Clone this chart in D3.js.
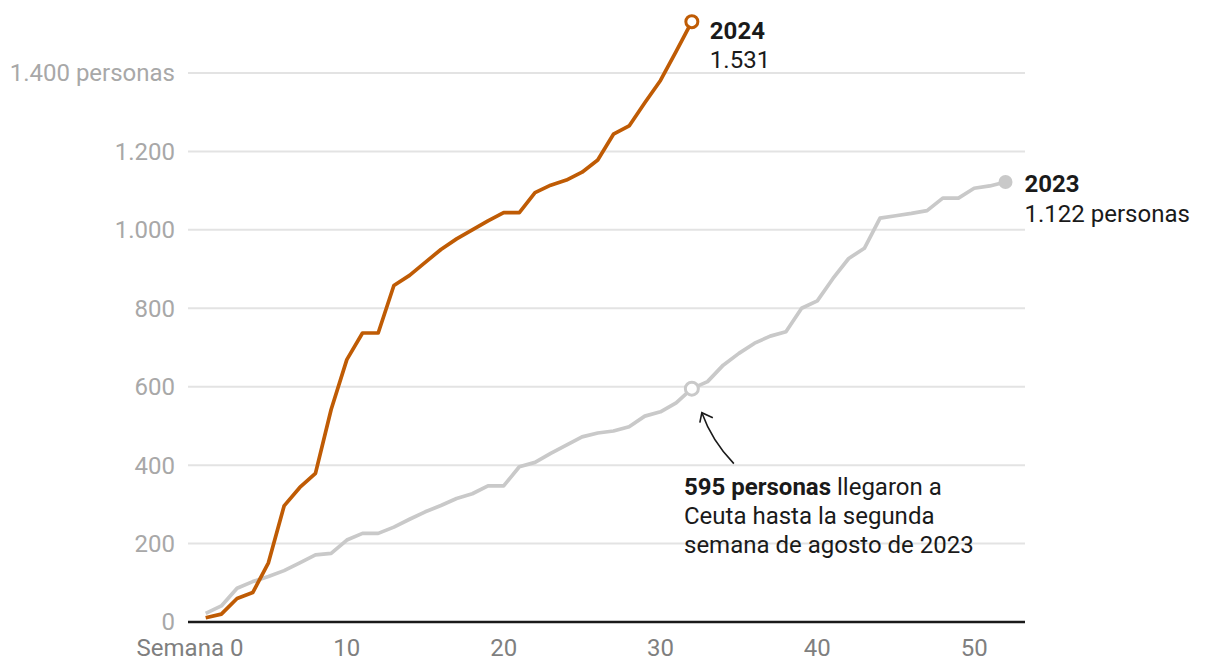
<!DOCTYPE html>
<html>
<head>
<meta charset="utf-8">
<script src="https://cdn.jsdelivr.net/npm/d3@7"></script>
<style>
  html, body { margin: 0; padding: 0; background: #fff; }
  svg { display: block; font-family: Roboto, "Noto Sans", sans-serif; }
</style>
</head>
<body>
<svg id="chart" width="1220" height="672"></svg>
<script>
// ---- Data ----
const weeks2024 = [1,2,3,4,5,6,7,8,9,10,11,12,13,14,15,16,17,18,19,20,21,22,23,24,25,26,27,28,29,30,31,32];
const values2024 = [11,20,60,75,151,296,343,379,542,669,737,737,858,884,917,950,977,1000,1023,1044,1044,1095,1114,1127,1147,1178,1244,1265,1324,1381,1455,1531];

const weeks2023 = [1,2,3,4,5,6,7,8,9,10,11,12,13,14,15,16,17,18,19,20,21,22,23,24,25,26,27,28,29,30,31,32,33,34,35,36,37,38,39,40,41,42,43,44,45,46,47,48,49,50,51,52];
const values2023 = [22,41,86,103,116,131,151,171,175,209,
                    226,226,242,262,281,297,315,327,347,347,
                    396,407,430,451,472,482,487,498,525,536,
                    559,595,613,655,685,711,729,740,800,819,
                    876,927,953,1030,1036,1042,1049,1081,1081,1106,
                    1112,1122];

const yTicks = [0,200,400,600,800,1000,1200,1400];
const yTickLabels = ["0","200","400","600","800","1.000","1.200","1.400 personas"];
const xTicks = [0,10,20,30,40,50];
const xTickLabels = ["Semana 0","10","20","30","40","50"];

const highlightWeek = 32;
const highlightValue = 595;

// ---- Layout ----
const svg = d3.select("#chart");
const x = d3.scaleLinear().domain([0, 52]).range([190, 1005.5]);
const y = d3.scaleLinear().domain([0, 1400]).range([622, 73]);
const gridLeft = 188, gridRight = 1025;
const fs = 24;

const c2024 = "#bf5b04";
const c2023 = "#c9c9c9";

// grid
svg.append("g").selectAll("line")
  .data(yTicks.filter(d => d > 0))
  .join("line")
  .attr("x1", gridLeft).attr("x2", gridRight)
  .attr("y1", d => y(d)).attr("y2", d => y(d))
  .attr("stroke", "#e3e3e3").attr("stroke-width", 2);

// y labels
svg.append("g").selectAll("text")
  .data(yTicks)
  .join("text")
  .attr("x", 175)
  .attr("y", d => y(d))
  .attr("dy", "0.35em")
  .attr("text-anchor", "end")
  .attr("fill", "#a8a8a8")
  .attr("font-size", fs)
  .text((d, i) => yTickLabels[i]);

// x labels
svg.append("g").selectAll("text")
  .data(xTicks)
  .join("text")
  .attr("x", d => x(d))
  .attr("y", 656)
  .attr("text-anchor", "middle")
  .attr("fill", "#7f7f7f")
  .attr("font-size", fs)
  .text((d, i) => xTickLabels[i]);

// lines
const line = d3.line().x(d => x(d[0])).y(d => y(d[1]));
const d2023 = weeks2023.map((w, i) => [w, values2023[i]]);
const d2024 = weeks2024.map((w, i) => [w, values2024[i]]);

svg.append("path").datum(d2023)
  .attr("d", line).attr("fill", "none")
  .attr("stroke", c2023).attr("stroke-width", 3.7)
  .attr("stroke-linejoin", "round");

svg.append("path").datum(d2024)
  .attr("d", line).attr("fill", "none")
  .attr("stroke", c2024).attr("stroke-width", 3.7)
  .attr("stroke-linejoin", "round");

// baseline
svg.append("line")
  .attr("x1", gridLeft).attr("x2", gridRight)
  .attr("y1", y(0)).attr("y2", y(0))
  .attr("stroke", "#1a1a1a").attr("stroke-width", 2.5);

// end markers
const last2024 = d2024[d2024.length - 1];
const last2023 = d2023[d2023.length - 1];
svg.append("circle")
  .attr("cx", x(last2024[0])).attr("cy", y(last2024[1])).attr("r", 6)
  .attr("fill", "#fff").attr("stroke", c2024).attr("stroke-width", 3);
svg.append("circle")
  .attr("cx", x(last2023[0])).attr("cy", y(last2023[1])).attr("r", 7)
  .attr("fill", c2023);
svg.append("circle")
  .attr("cx", x(highlightWeek)).attr("cy", y(highlightValue)).attr("r", 6.5)
  .attr("fill", "#fff").attr("stroke", c2023).attr("stroke-width", 3);

// end labels
const fmt = d3.formatLocale({decimal: ",", thousands: ".", grouping: [3], currency: ["", "€"]}).format(",");
const lab24 = svg.append("text").attr("x", x(last2024[0]) + 18).attr("y", y(last2024[1]) + 17)
  .attr("fill", "#1a1a1a").attr("font-size", fs);
lab24.append("tspan").attr("font-weight", "bold").text(String(2024));
lab24.append("tspan").attr("x", x(last2024[0]) + 18).attr("dy", 29).text(fmt(last2024[1]));

const lab23 = svg.append("text").attr("x", x(last2023[0]) + 19).attr("y", y(last2023[1]) + 10)
  .attr("fill", "#1a1a1a").attr("font-size", fs);
lab23.append("tspan").attr("font-weight", "bold").text(String(2023));
lab23.append("tspan").attr("x", x(last2023[0]) + 19).attr("dy", 30).text(fmt(last2023[1]) + " personas");

// annotation
const ax = x(highlightWeek), ay = y(highlightValue);
const tipX = ax + 10, tipY = ay + 24;
const startX = ax + 42, startY = ay + 75;
svg.append("path")
  .attr("d", `M${startX},${startY} Q${ax + 20},${ay + 52} ${tipX},${tipY}`)
  .attr("fill", "none").attr("stroke", "#1a1a1a").attr("stroke-width", 1.6);
svg.append("path")
  .attr("d", `M${tipX - 2},${tipY + 10} L${tipX},${tipY} L${tipX + 11},${tipY + 5}`)
  .attr("fill", "none").attr("stroke", "#1a1a1a").attr("stroke-width", 1.6)
  .attr("stroke-linejoin", "miter");

const ann = svg.append("text").attr("x", 684).attr("y", 495)
  .attr("fill", "#1a1a1a").attr("font-size", fs);
const l1 = ann.append("tspan").attr("x", 684);
l1.append("tspan").attr("font-weight", "bold").text(highlightValue + " personas");
l1.append("tspan").text(" llegaron a");
ann.append("tspan").attr("x", 684).attr("dy", 29).text("Ceuta hasta la segunda");
ann.append("tspan").attr("x", 684).attr("dy", 29).text("semana de agosto de 2023");
</script>
</body>
</html>
